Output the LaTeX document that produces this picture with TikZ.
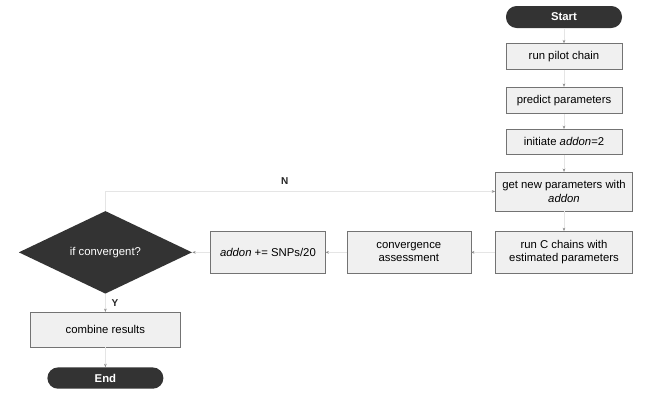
\documentclass[tikz,border=0pt]{standalone}
\usepackage{fontspec}
\setmainfont{Liberation Sans}
\usetikzlibrary{positioning, arrows.meta, shapes.geometric}

\begin{document}
\begin{tikzpicture}[
  x=0.75pt, y=-0.75pt,
  font=\fontsize{8.5}{10}\selectfont,
  terminal/.style={rounded corners=8pt, fill=black!80, text=white, font=\fontsize{8.5}{10}\selectfont\bfseries, minimum width=87pt, minimum height=16.5pt, inner sep=1pt},
  stepbox/.style={draw=black!55, line width=0.4pt, fill=gray!12, align=center, minimum width=87pt, minimum height=19.5pt, inner sep=2pt},
  widebox/.style={stepbox, minimum width=103pt, minimum height=29pt},
  decision/.style={diamond, fill=black!80, text=white, aspect=2.1, minimum width=130pt, minimum height=62pt, inner sep=0pt},
  link/.style={draw=black!10, line width=0.5pt, -{Stealth[length=2.5pt, width=2pt, black!45]}},
  lbl/.style={font=\fontsize{7.5}{9}\selectfont\bfseries, text=black!85}
]
\useasboundingbox (0,0) rectangle (653,393);

% --- Coluna da direita ---
\node[terminal] (start) at (564,17) {Start};
\node[stepbox, below=11.25pt of start] (pilot) {run pilot chain};
\node[stepbox, below=12.75pt of pilot, minimum height=20pt] (pred) {predict parameters};
\node[stepbox, below=11.25pt of pred, minimum height=19pt] (init) {initiate \textit{addon}=2};
\node[widebox, below=12.75pt of init] (newp) {get new parameters with\\ \textit{addon}};
\node[widebox, below=15pt of newp, minimum height=31.5pt] (runc) {run C chains with\\ estimated parameters};

% --- Linha do meio ---
\node[stepbox, left=18pt of runc, minimum width=93pt, minimum height=31pt] (conv) {convergence\\ assessment};
\node[stepbox, left=15.75pt of conv, minimum width=86pt, minimum height=31pt] (addon) {\textit{addon} += SNPs/20};
\node[decision, left=13.5pt of addon] (dec) {if convergent?};

% --- Coluna da esquerda ---
\node[stepbox, below=13.5pt of dec, minimum width=113pt, minimum height=26pt] (comb) {combine results};
\node[terminal, below=15pt of comb, minimum height=16pt] (stop) {End};

% --- Conexões ---
\draw[link] (start) -- (pilot);
\draw[link] (pilot) -- (pred);
\draw[link] (pred) -- (init);
\draw[link] (init) -- (newp);
\draw[link] (newp) -- (runc);
\draw[link] (runc) -- (conv);
\draw[link] (conv) -- (addon);
\draw[link] (addon) -- (dec);
\draw[link] (dec) -- node[lbl, right=1pt] {Y} (comb);
\draw[link] (comb) -- (stop);
\draw[link] (dec.north) |- node[lbl, above=2pt, pos=0.73] {N} (newp.west);

\end{tikzpicture}
\end{document}
